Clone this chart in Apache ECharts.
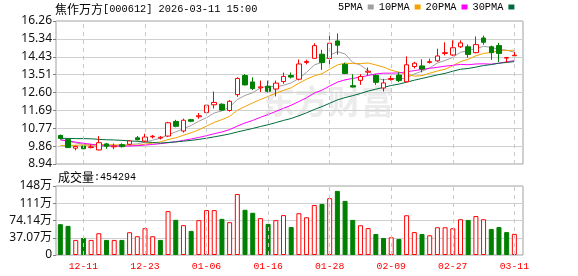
<!DOCTYPE html>
<html><head><meta charset="utf-8">
<script src="https://cdn.jsdelivr.net/npm/echarts@6/dist/echarts.min.js"></script>
<style>html,body{margin:0;padding:0;background:#fff}#chart{width:578px;height:276px}</style>
</head><body><div id="chart"></div>
<script>
const dates = ['12-08','12-09','12-10','12-11','12-12','12-15','12-16','12-17','12-18','12-19','12-22','12-23','12-24','12-25','12-26','12-29','12-30','12-31','01-05','01-06','01-07','01-08','01-09','01-12','01-13','01-14','01-15','01-16','01-19','01-20','01-21','01-22','01-23','01-26','01-27','01-28','01-29','01-30','02-02','02-03','02-04','02-05','02-06','02-09','02-10','02-11','02-12','02-13','02-24','02-25','02-26','02-27','03-02','03-03','03-04','03-05','03-06','03-09','03-10','03-11'];
const openPrices = [10.40,10.20,9.75,9.86,9.78,9.66,9.97,9.82,9.93,9.95,
10.28,10.11,10.33,10.27,10.37,11.12,10.63,11.21,11.36,11.57,
11.97,12.00,11.68,12.49,13.47,13.14,12.84,12.92,12.78,13.16,
13.47,13.28,14.14,14.35,14.56,14.34,15.24,14.04,12.95,13.22,
13.64,13.48,12.83,13.27,13.49,13.15,13.93,13.96,14.14,14.22,
14.60,14.52,14.94,14.94,14.64,15.39,14.94,15.00,14.36,14.48];
const closePrices = [10.25,9.78,9.84,9.72,9.82,10.03,9.85,9.86,9.83,10.12,
10.18,10.32,10.36,10.31,11.05,10.87,11.18,11.13,11.41,11.95,
12.09,11.70,12.15,13.32,12.99,12.80,12.89,12.66,13.08,13.42,
13.39,14.06,14.19,15.00,14.13,15.12,15.02,13.57,12.88,13.42,
13.69,13.12,13.09,13.31,13.21,14.02,14.10,13.80,14.18,14.47,
14.64,14.89,15.14,14.55,15.05,15.17,14.64,14.60,14.39,14.51];
const lowPrices = [10.20,9.76,9.64,9.70,9.74,9.64,9.72,9.70,9.78,9.88,
10.15,10.06,10.25,10.20,10.33,10.82,10.55,11.08,11.26,11.54,
11.78,11.66,11.62,12.38,12.96,12.72,12.63,12.60,12.40,13.05,
13.32,13.22,14.04,14.32,13.76,14.04,14.54,13.54,12.86,12.99,
13.46,12.99,12.65,13.21,13.13,13.12,13.83,13.63,14.08,14.17,
14.50,14.47,14.88,14.38,14.60,15.05,14.27,14.17,14.13,14.42];
const highPrices = [10.45,10.22,9.88,9.88,9.94,10.37,10.02,9.99,10.00,10.17,
10.37,10.49,10.42,10.37,11.10,11.20,11.26,11.25,11.55,12.00,
12.65,12.05,12.21,13.38,13.54,13.38,13.21,13.21,13.21,13.62,
13.62,14.29,14.28,15.12,14.79,15.51,15.62,14.13,13.54,13.54,
13.88,13.54,13.30,13.45,13.63,14.45,14.17,14.30,14.33,14.84,
15.17,15.27,15.27,15.06,15.47,15.51,15.00,15.14,14.40,14.67];
const ma5 = [10.20,10.10,10.02,9.95,9.88,9.84,9.85,9.86,9.88,9.94,
9.97,10.06,10.16,10.26,10.44,10.58,10.75,10.91,11.13,11.31,
11.55,11.66,11.86,12.24,12.45,12.59,12.83,12.93,12.88,12.97,
13.09,13.32,13.63,14.01,14.15,14.50,14.69,14.57,14.14,14.00,
13.72,13.34,13.24,13.33,13.28,13.35,13.55,13.69,13.86,14.11,
14.24,14.40,14.66,14.74,14.85,14.96,14.91,14.80,14.77,14.66];
const ma10 = [9.88,9.89,9.90,9.91,9.92,9.93,9.93,9.92,9.91,9.91,
9.90,9.96,10.01,10.07,10.19,10.28,10.41,10.54,10.69,10.88,
11.07,11.21,11.38,11.69,11.88,12.07,12.24,12.40,12.56,12.71,
12.84,13.08,13.28,13.45,13.56,13.79,14.01,14.10,14.08,14.08,
14.11,14.01,13.90,13.74,13.64,13.53,13.44,13.46,13.59,13.70,
13.79,13.97,14.18,14.30,14.48,14.60,14.65,14.73,14.75,14.76];
const ma20 = [10.17,10.12,10.06,10.00,9.95,9.91,9.88,9.86,9.85,9.86,
9.88,9.91,9.94,9.98,10.03,10.08,10.15,10.22,10.30,10.39,
10.49,10.58,10.70,10.88,11.04,11.17,11.33,11.47,11.63,11.79,
11.95,12.14,12.33,12.57,12.72,12.93,13.13,13.25,13.32,13.39,
13.47,13.55,13.59,13.59,13.60,13.66,13.72,13.78,13.84,13.89,
13.95,13.99,14.04,14.02,14.06,14.07,14.05,14.10,14.17,14.23];
const ma30 = [10.25,10.25,10.24,10.24,10.23,10.20,10.18,10.17,10.15,10.12,
10.10,10.07,10.04,10.01,10.04,10.07,10.11,10.15,10.20,10.26,
10.33,10.40,10.48,10.58,10.67,10.76,10.86,10.95,11.06,11.17,
11.27,11.41,11.56,11.73,11.88,12.05,12.22,12.34,12.44,12.55,
12.67,12.77,12.86,12.96,13.03,13.13,13.23,13.32,13.41,13.50,
13.58,13.69,13.79,13.83,13.90,13.98,14.03,14.10,14.14,14.18];
// volume in 万
const volumes = [66.2,62.6,32.4,36.7,32.4,46.8,32.4,32.4,32.4,48.9,
40.3,57.6,40.3,32.4,94.3,75.6,64.1,51.8,74.9,96.5,
96.5,77.7,70.5,131.0,97.2,90.7,79.2,66.9,74.9,85.7,
60.0,89.8,81.1,107.4,109.9,122.1,137.8,116.3,75.4,63.9,
57.8,45.2,36.6,38.0,34.5,85.4,49.2,45.2,42.4,59.6,
59.6,57.5,76.8,75.4,83.7,76.8,56.0,60.0,49.2,45.43];
// 1 = red (up), 0 = green (down)
const volumeUp = [0,0,1,0,1,1,0,1,0,1,
1,1,1,0,1,0,1,0,1,1,
1,0,1,1,0,0,1,0,1,1,
0,1,1,1,0,1,0,0,0,1,
1,0,0,1,0,1,1,0,1,1,
1,1,1,0,1,1,0,0,0,1];
const priceTickLabels = ['8.94','9.86','10.77','11.69','12.60','13.51','14.43','15.34','16.26'];
const volumeTickLabels = ['0','37.07万','74.14万','111万','148万'];
const dateTickLabels = ['12-11','12-23','01-06','01-16','01-28','02-09','02-27','03-11'];
const maNames = ['5PMA','10PMA','20PMA','30PMA'];
const maColors = ['#a0a0a0','#f4a300','#ff00ff','#006b3c'];

const PMIN = 8.94, PMAX = 16.26, PINT = 0.915;
const VMAX = 148.28, VINT = 37.07;

const candleData = dates.map((d, i) => [openPrices[i], closePrices[i], lowPrices[i], highPrices[i]]);
const volData = volumes.map((v, i) => ({
  value: v,
  itemStyle: volumeUp[i] ? {color:'#ffffff', borderColor:'#ff0000', borderWidth:1} : {color:'#008000', borderColor:'#008000', borderWidth:1}
}));
const vLines = dateTickLabels.map(d => ({xAxis: d}));
const markLineCfg = {symbol:'none', silent:true, animation:false, label:{show:false},
  lineStyle:{color:'#c8c8c8', type:[4,4], width:1}, data: vLines};

const chart = echarts.init(document.getElementById('chart'), null, {renderer:'canvas'});
const labelFont = 'Noto Sans, Noto Sans CJK SC, sans-serif';
chart.setOption({
  animation:false,
  backgroundColor:'#ffffff',
  legend:{data:maNames, left:338, top:2, padding:0, align:'right', icon:'rect', itemWidth:6, itemHeight:5, itemGap:5,
    selectedMode:false, textStyle:{fontFamily:'Liberation Mono', fontSize:10.3, color:'#000'}},
  grid:[
    {left:56, top:21, width:467, height:143, show:true, borderColor:'#a0a0a0', borderWidth:1},
    {left:56.5, top:21, width:461.7, height:143},
    {left:56, top:186, width:467, height:69, show:true, borderColor:'#a0a0a0', borderWidth:1},
    {left:56.5, top:186, width:461.7, height:69}
  ],
  xAxis:[
    {gridIndex:0, type:'value', min:0, max:1, show:false},
    {gridIndex:1, type:'category', data:dates, axisLine:{show:false}, axisTick:{show:false}, axisLabel:{show:false}, splitLine:{show:false}},
    {gridIndex:2, type:'value', min:0, max:1, show:false},
    {gridIndex:3, type:'category', data:dates, axisLine:{show:false}, axisTick:{show:false}, splitLine:{show:false},
      axisLabel:{show:true, interval:(i, v) => dateTickLabels.indexOf(v) >= 0, color:'#ff0000', fontFamily:'Liberation Mono', fontSize:9.8, margin:6}}
  ],
  yAxis:[
    {gridIndex:0, type:'value', min:PMIN, max:PMAX, interval:PINT, axisLine:{show:false},
      axisTick:{show:true, length:3, lineStyle:{color:'#808080'}},
      axisLabel:{color:'#111', fontSize:12, fontFamily:labelFont, margin:4,
        formatter:(v) => priceTickLabels[Math.round((v - PMIN) / PINT)]},
      splitLine:{show:true, lineStyle:{color:'#d0d0d0', width:1}}},
    {gridIndex:1, type:'value', min:PMIN, max:PMAX, show:false, splitLine:{show:false}},
    {gridIndex:2, type:'value', min:0, max:VMAX, interval:VINT, axisLine:{show:false},
      axisTick:{show:true, length:3, lineStyle:{color:'#808080'}},
      axisLabel:{color:'#111', fontSize:12, fontFamily:labelFont, margin:4,
        formatter:(v) => volumeTickLabels[Math.round(v / VINT)]},
      splitLine:{show:true, lineStyle:{color:'#d0d0d0', width:1}}},
    {gridIndex:3, type:'value', min:0, max:VMAX, show:false, splitLine:{show:false}}
  ],
  graphic:{elements:[
    {type:'text', x:262, y:101, z:-1, silent:true, style:{text:'东方财富', font:'bold 33px "Noto Sans CJK SC"', fill:'#ececec', verticalAlign:'middle'}},
    {type:'text', x:55, y:9, style:{text:'焦作万方', font:'12px "Noto Sans CJK SC"', fill:'#000', verticalAlign:'middle'}},
    {type:'text', x:103, y:9, style:{text:'[000612] 2026-03-11 15:00', font:'10.3px "Liberation Mono"', fill:'#000', verticalAlign:'middle'}},
    {type:'text', x:58, y:177, style:{text:'成交量', font:'12px "Noto Sans CJK SC"', fill:'#000', verticalAlign:'middle'}},
    {type:'text', x:94, y:177, style:{text:':454294', font:'10px "Liberation Mono"', fill:'#000', verticalAlign:'middle'}}
  ]},
  series:[
    {type:'candlestick', name:'K', xAxisIndex:1, yAxisIndex:1, data:candleData, barWidth:5, z:4,
      itemStyle:{color:'#ffffff', color0:'#008000', borderColor:'#ff0000', borderColor0:'#008000', borderWidth:1},
      markLine:markLineCfg},
    ...[ma5, ma10, ma20, ma30].map((arr, k) => ({
      type:'line', name:maNames[k], xAxisIndex:1, yAxisIndex:1, data:arr, symbol:'none', showSymbol:false,
      color:maColors[k], lineStyle:{color:maColors[k], width:1}, z:3, silent:true
    })),
    {type:'bar', name:'VOL', xAxisIndex:3, yAxisIndex:3, data:volData, barWidth:5, markLine:markLineCfg}
  ]
});
</script></body></html>
